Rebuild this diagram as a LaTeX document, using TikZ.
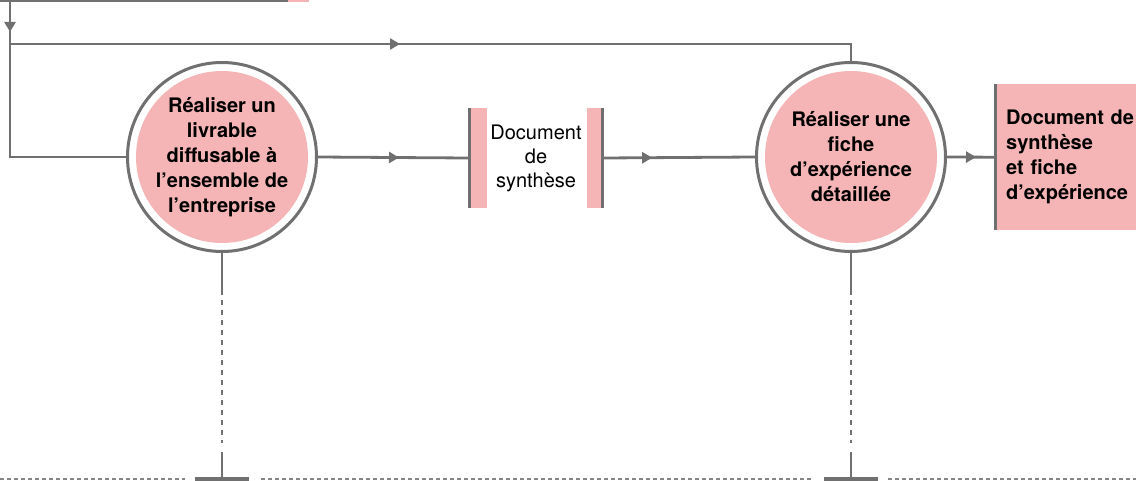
\documentclass[tikz,border=0pt]{standalone}
\usepackage{fontspec}
\setmainfont{TeX Gyre Heros}
\usepackage{xcolor}
\usepackage{tikz}
\usetikzlibrary{arrows.meta,positioning,decorations.markings,calc}
\definecolor{lgrey}{RGB}{112,112,112}
\definecolor{rose}{RGB}{245,180,181}
\tikzset{
  flow/.style={draw=lgrey,line width=2.8pt},
  tipat/.style={postaction={decorate},decoration={markings,
      mark=at position #1 with {\arrow{Triangle[length=10pt,width=11pt]}}}},
  act/.style={circle,draw=lgrey,line width=3pt,fill=white,minimum size=189pt,
      inner sep=0pt,align=center,font=\bfseries\fontsize{20}{25}\selectfont,
      path picture={\fill[rose] (path picture bounding box.center) circle (86pt);}},
  docbox/.style={minimum width=136pt,minimum height=100pt,inner sep=0pt,
      align=center,font=\fontsize{20}{24}\selectfont},
  outbox/.style={rectangle,fill=rose,anchor=north west,minimum height=146pt,
      text width=130pt,inner xsep=12pt,inner ysep=0pt,align=left,
      font=\bfseries\fontsize{20}{25}\selectfont},
  droptee/.style={draw=lgrey,line width=2.2pt},
  dropdash/.style={draw=lgrey,line width=1.2pt,dash pattern=on 5pt off 5pt},
  floorline/.style={draw=lgrey!85,line width=2pt,dash pattern=on 4pt off 3pt}
}
\begin{document}
\begin{tikzpicture}[x=1pt,y=-1pt]
  \useasboundingbox (0,0) rectangle (1136,481);
  \coordinate (dashtop) at (0,290);
  \coordinate (dashend) at (0,443);
  \coordinate (teetop) at (0,452);
  \coordinate (base) at (0,479);
  \node[act] (c1) at (222,157) {Réaliser un\\livrable\\diffusable à\\l’ensemble de\\l’entreprise};
  \node[act] (c2) at (851,157) {Réaliser une\\fiche\\d’expérience\\détaillée};
  \node[docbox] (doc) at (536,158) {Document\\de\\synthèse};
  \fill[rose] (doc.north west) rectangle ++(19,100);
  \fill[rose] (doc.north east) rectangle ++(-17,100);
  \draw[lgrey,line width=3pt] ($(doc.north west)+(1.5,0)$) -- ($(doc.south west)+(1.5,0)$);
  \draw[lgrey,line width=3pt] ($(doc.north east)+(-1.5,0)$) -- ($(doc.south east)+(-1.5,0)$);
  \node[outbox] (out) at (994,84) {Document de\\synthèse\\et fiche\\d’expérience};
  \draw[lgrey,line width=3pt] ($(out.north west)+(1.5,0)$) -- ($(out.south west)+(1.5,0)$);
  \coordinate (feed) at (10,1);
  \coordinate (split) at (10,44);
  \fill[rose] (288,0) rectangle (309,2.5);
  \draw[flow] (0,1) -- (288,1);
  \draw[flow,tipat=31pt] (feed) -- (10,157) -- (c1.west);
  \draw[flow,tipat=390pt] (split) -- (c2.north |- split) -- (c2.north);
  \draw[flow,tipat=81pt] (c1.east) -- (doc.west);
  \draw[flow,tipat=48pt] (doc.east) -- (c2.west);
  \draw[flow,tipat=29pt] (c2.east) -- (out.west);
  \foreach \n in {c1,c2}{
    \draw[droptee] (\n.south) -- (\n.south |- dashtop);
    \draw[dropdash] (\n.south |- dashtop) -- (\n.south |- dashend);
    \draw[droptee] (\n.south |- teetop) -- (\n.south |- base);
    \fill[lgrey] ($(\n.south |- base)+(-27,-2)$) rectangle ++(54,5);}
  \draw[floorline] (0,479) -- (185,479);
  \draw[floorline] (261,479) -- (812,479);
  \draw[floorline] (888,479) -- (1136,479);
\end{tikzpicture}
\end{document}
